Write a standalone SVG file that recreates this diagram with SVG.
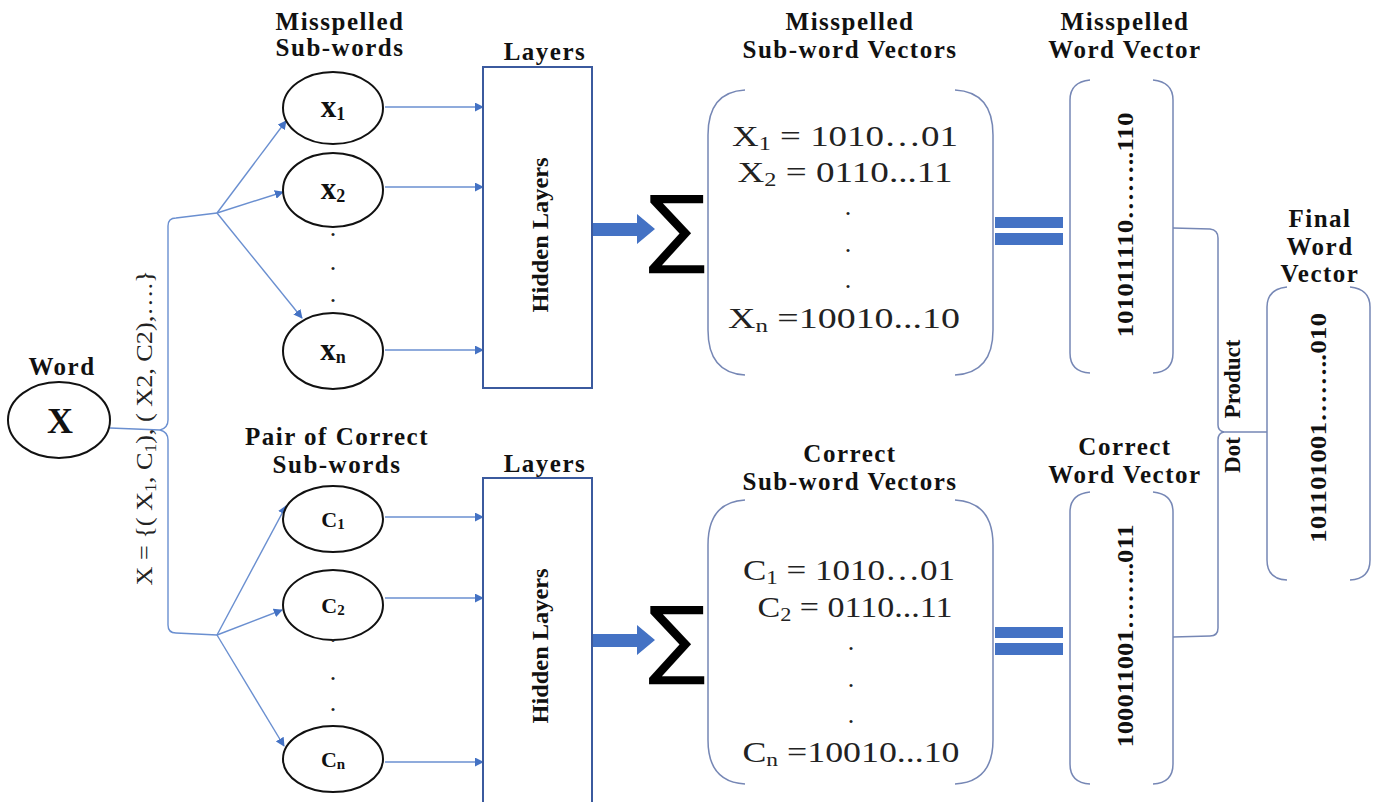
<svg xmlns="http://www.w3.org/2000/svg" width="1376" height="802" viewBox="0 0 1376 802">
<defs>
<marker id="ah" viewBox="0 0 10 10" refX="9" refY="5" markerWidth="9" markerHeight="9" markerUnits="userSpaceOnUse" orient="auto">
<path d="M0,0 L10,5 L0,10 z" fill="#4472C4"/>
</marker>
<style>
text{font-family:"Liberation Serif","Times New Roman",Tinos,Times,serif}
.lbl{font-weight:bold;font-size:25px;fill:#111;text-anchor:middle;letter-spacing:1.5px}
.vec{font-size:29px;fill:#222;text-anchor:middle}
.rot{font-weight:bold;font-size:23px;fill:#111;text-anchor:middle}
.nt{font-weight:bold;fill:#111;text-anchor:middle}
.node{fill:#fff;stroke:#111;stroke-width:2}
.conn{fill:none;stroke:#6a8fd0;stroke-width:1.4}
.brk{fill:none;stroke:#7687b5;stroke-width:1.5}
.hid{fill:#fff;stroke:#3b5a9e;stroke-width:2}
.bar{fill:#4472C4}
text.sig{font-family:"DejaVu Sans",sans-serif;font-size:86px;fill:#000;text-anchor:middle}
.dot{font-size:26px;fill:#222;text-anchor:middle}
</style>
</defs>
<rect width="1376" height="802" fill="#fff"/>

<g id="connectors">
<path class="conn" d="M110,428 L160,430"/>
<path class="conn" d="M217,213 L176,218 Q168,218 168,226 L168,420 Q168,428 160,430 Q168,432 168,440 L168,625 Q168,633 176,633 L217,635"/>
<path class="conn" d="M217,213 L286,121" marker-end="url(#ah)"/>
<path class="conn" d="M217,213 L283,192" marker-end="url(#ah)"/>
<path class="conn" d="M217,213 L302,318" marker-end="url(#ah)"/>
<path class="conn" d="M217,635 L286,506" marker-end="url(#ah)"/>
<path class="conn" d="M217,635 L282,610" marker-end="url(#ah)"/>
<path class="conn" d="M217,635 L284,746" marker-end="url(#ah)"/>
<path class="conn" d="M385,107 L483,107" marker-end="url(#ah)"/>
<path class="conn" d="M385,187 L483,187" marker-end="url(#ah)"/>
<path class="conn" d="M385,350 L483,350" marker-end="url(#ah)"/>
<path class="conn" d="M385,517 L483,517" marker-end="url(#ah)"/>
<path class="conn" d="M385,598 L483,598" marker-end="url(#ah)"/>
<path class="conn" d="M385,762 L483,762" marker-end="url(#ah)"/>
<path class="bar" d="M593,223 L637,223 L637,214 L655,229 L637,244 L637,236 L593,236 z"/>
<path class="bar" d="M593,634 L637,634 L637,625 L655,640 L637,655 L637,647 L593,647 z"/>
<rect class="bar" x="995" y="217" width="68" height="11"/>
<rect class="bar" x="995" y="233" width="68" height="12"/>
<rect class="bar" x="995" y="627" width="68" height="11"/>
<rect class="bar" x="995" y="643" width="68" height="12"/>
<path class="brk" d="M1173,228 L1210,229 Q1218,230 1218,238 L1218,425 Q1218,431 1224,432 L1267,432"/>
<path class="brk" d="M1224,432 Q1218,433 1218,440 L1218,628 Q1218,636 1210,636 L1173,637"/>
<text class="rot" font-size="21" transform="translate(1240,379) rotate(-90)">Product</text>
<text class="rot" font-size="21" transform="translate(1240,455) rotate(-90)">Dot</text>
</g>

<g id="word">
<text class="lbl" x="62" y="375">Word</text>
<ellipse class="node" cx="59" cy="420" rx="51" ry="38"/>
<text class="nt" x="60" y="433" font-size="36">X</text>
<text font-size="24" fill="#222" text-anchor="middle" transform="translate(152,428) rotate(-90)" textLength="315" lengthAdjust="spacingAndGlyphs">X = {( X<tspan font-size="16" dy="4">1</tspan><tspan dy="-4">, C</tspan><tspan font-size="16" dy="4">1</tspan><tspan dy="-4">), ( X2, C2),….}</tspan></text>
</g>

<g id="misspelled-subwords">
<text class="lbl" x="340" y="30">Misspelled</text>
<text class="lbl" x="340" y="56">Sub-words</text>
<ellipse class="node" cx="333" cy="108" rx="50" ry="36"/>
<text class="nt" x="333" y="117" font-size="31">x<tspan font-size="18" dy="3">1</tspan></text>
<ellipse class="node" cx="333" cy="190" rx="50" ry="37"/>
<text class="nt" x="333" y="199" font-size="31">x<tspan font-size="18" dy="3">2</tspan></text>
<text class="dot" x="333" y="236">.</text>
<text class="dot" x="333" y="270">.</text>
<text class="dot" x="333" y="302">.</text>
<ellipse class="node" cx="333" cy="351" rx="50" ry="38"/>
<text class="nt" x="333" y="360" font-size="31">x<tspan font-size="18" dy="3">n</tspan></text>
</g>

<g id="correct-subwords">
<text class="lbl" x="337" y="445">Pair of Correct</text>
<text class="lbl" x="337" y="473">Sub-words</text>
<ellipse class="node" cx="333" cy="519" rx="50" ry="33"/>
<text class="nt" x="333" y="527" font-size="22">C<tspan font-size="15" dy="2">1</tspan></text>
<ellipse class="node" cx="333" cy="605" rx="50" ry="35"/>
<text class="nt" x="333" y="613" font-size="22">C<tspan font-size="15" dy="2">2</tspan></text>
<text class="dot" x="333" y="642">.</text>
<text class="dot" x="333" y="680">.</text>
<text class="dot" x="333" y="711">.</text>
<ellipse class="node" cx="333" cy="759" rx="50" ry="33"/>
<text class="nt" x="333" y="767" font-size="22">C<tspan font-size="15" dy="2">n</tspan></text>
</g>

<g id="hidden-top">
<text class="lbl" x="545" y="60">Layers</text>
<rect class="hid" x="483" y="67" width="109" height="321"/>
<text class="rot" font-size="25" transform="translate(548,235) rotate(-90)" textLength="155" lengthAdjust="spacingAndGlyphs">Hidden Layers</text>
</g>

<g id="hidden-bottom">
<text class="lbl" x="545" y="472">Layers</text>
<rect class="hid" x="483" y="478" width="109" height="330"/>
<text class="rot" font-size="25" transform="translate(548,646) rotate(-90)" textLength="155" lengthAdjust="spacingAndGlyphs">Hidden Layers</text>
</g>

<g id="sum-top"><text class="sig" x="677" y="257">∑</text></g>
<g id="sum-bottom"><text class="sig" x="677" y="668">∑</text></g>

<g id="misspelled-vectors">
<text class="lbl" x="850" y="30">Misspelled</text>
<text class="lbl" x="850" y="58">Sub-word Vectors</text>
<path class="brk" d="M745,90 Q708,92 708,135 L708,330 Q708,373 745,375"/>
<path class="brk" d="M955,90 Q993,92 993,135 L993,330 Q993,373 955,375"/>
<text class="vec" x="845" y="146" textLength="226" lengthAdjust="spacingAndGlyphs">X<tspan font-size="19" dy="4">1</tspan><tspan dy="-4"> = 1010…01</tspan></text>
<text class="vec" x="845" y="182" textLength="215" lengthAdjust="spacingAndGlyphs">X<tspan font-size="19" dy="4">2</tspan><tspan dy="-4"> = 0110...11</tspan></text>
<text class="dot" x="848" y="215">.</text>
<text class="dot" x="848" y="252">.</text>
<text class="dot" x="848" y="288">.</text>
<text class="vec" x="844" y="328" textLength="232" lengthAdjust="spacingAndGlyphs">X<tspan font-size="19" dy="4">n</tspan><tspan dy="-4"> =10010...10</tspan></text>
</g>

<g id="correct-vectors">
<text class="lbl" x="850" y="462">Correct</text>
<text class="lbl" x="850" y="490">Sub-word Vectors</text>
<path class="brk" d="M745,500 Q708,502 708,545 L708,740 Q708,782 745,784"/>
<path class="brk" d="M955,500 Q993,502 993,545 L993,740 Q993,782 955,784"/>
<text class="vec" x="849" y="580" textLength="212" lengthAdjust="spacingAndGlyphs">C<tspan font-size="19" dy="4">1</tspan><tspan dy="-4"> = 1010…01</tspan></text>
<text class="vec" x="855" y="617" textLength="195" lengthAdjust="spacingAndGlyphs">C<tspan font-size="19" dy="4">2</tspan><tspan dy="-4"> = 0110...11</tspan></text>
<text class="dot" x="851" y="650">.</text>
<text class="dot" x="851" y="687">.</text>
<text class="dot" x="851" y="723">.</text>
<text class="vec" x="851" y="762" textLength="217" lengthAdjust="spacingAndGlyphs">C<tspan font-size="19" dy="4">n</tspan><tspan dy="-4"> =10010...10</tspan></text>
</g>

<g id="misspelled-word-vector">
<text class="lbl" x="1125" y="30">Misspelled</text>
<text class="lbl" x="1125" y="58">Word Vector</text>
<path class="brk" d="M1090,80 Q1070,82 1070,100 L1070,353 Q1070,372 1090,373"/>
<path class="brk" d="M1153,80 Q1173,82 1173,100 L1173,353 Q1173,372 1153,373"/>
<text class="rot" transform="translate(1133,225) rotate(-90)" textLength="225" lengthAdjust="spacingAndGlyphs">101011110……..110</text>
</g>

<g id="correct-word-vector">
<text class="lbl" x="1125" y="455">Correct</text>
<text class="lbl" x="1125" y="483">Word Vector</text>
<path class="brk" d="M1090,492 Q1070,494 1070,512 L1070,764 Q1070,783 1090,784"/>
<path class="brk" d="M1153,492 Q1173,494 1173,512 L1173,764 Q1173,783 1153,784"/>
<text class="rot" transform="translate(1133,636) rotate(-90)" textLength="223" lengthAdjust="spacingAndGlyphs">100011001……..011</text>
</g>

<g id="final-word-vector">
<text class="lbl" x="1320" y="227">Final</text>
<text class="lbl" x="1320" y="255">Word</text>
<text class="lbl" x="1320" y="282">Vector</text>
<path class="brk" d="M1287,287 Q1267,289 1267,307 L1267,560 Q1267,579 1287,580"/>
<path class="brk" d="M1350,287 Q1370,289 1370,307 L1370,560 Q1370,579 1350,580"/>
<text class="rot" transform="translate(1326,428) rotate(-90)" textLength="230" lengthAdjust="spacingAndGlyphs">101101001……..010</text>
</g>
</svg>
